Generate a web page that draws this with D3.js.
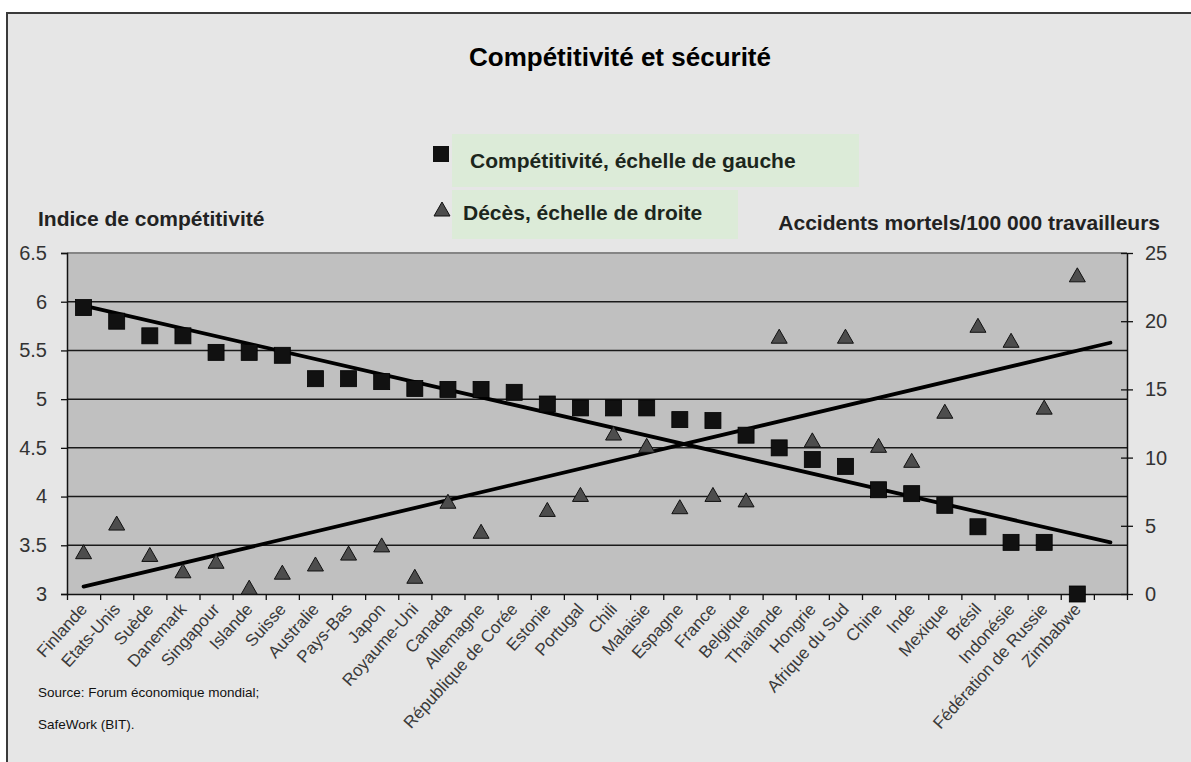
<!DOCTYPE html>
<html><head><meta charset="utf-8">
<script src="https://cdnjs.cloudflare.com/ajax/libs/d3/7.8.5/d3.min.js"></script>
<style>
body{margin:0;background:#fff}
svg{display:block}
text{font-family:"Liberation Sans",Arial,sans-serif}
</style>
</head><body>
<svg id="c" width="1191" height="762"></svg>
<script>
const categories = ["Finlande","Etats-Unis","Suède","Danemark","Singapour","Islande","Suisse","Australie","Pays-Bas","Japon","Royaume-Uni","Canada","Allemagne","République de Corée","Estonie","Portugal","Chili","Malaisie","Espagne","France","Belgique","Thaïlande","Hongrie","Afrique du Sud","Chine","Inde","Mexique","Brésil","Indonésie","Fédération de Russie","Zimbabwe"];
const competitiveness = [5.94,5.80,5.65,5.65,5.48,5.48,5.45,5.21,5.21,5.18,5.11,5.10,5.10,5.07,4.95,4.91,4.91,4.91,4.79,4.78,4.63,4.50,4.38,4.31,4.07,4.03,3.91,3.69,3.53,3.53,3.00];
const deaths = [3.1,5.2,2.9,1.7,2.4,0.5,1.6,2.2,3.0,3.6,1.3,6.8,4.6,null,6.2,7.3,11.8,10.9,6.4,7.3,6.9,18.9,11.3,18.9,10.9,9.8,13.4,19.7,18.6,13.7,23.4];
// linear trend lines: value at first slot, value at last slot
const competitivenessTrend = [5.96, 3.53];
const deathsTrend = [0.54, 18.42];
const leftTicks = [3,3.5,4,4.5,5,5.5,6,6.5];
const rightTicks = [0,5,10,15,20,25];
const nSlots = 32;

const svg = d3.select("#c");
const L = 67, R = 1127, T = 253, B = 594;
const FONT = "'Liberation Sans',Arial,sans-serif";

// frame
svg.append("rect").attr("x",7).attr("y",13).attr("width",1200).attr("height",800)
  .attr("fill","#e6e6e6").attr("stroke","#3a3a3a").attr("stroke-width",2);

const x = d3.scaleLinear().domain([0,nSlots]).range([L,R]);
const yL = d3.scaleLinear().domain([3,6.5]).range([B,T]);
const yR = d3.scaleLinear().domain([0,25]).range([B,T]);
const cx = i => x(i+0.5);

// plot area
svg.append("rect").attr("x",L).attr("y",T).attr("width",R-L).attr("height",B-T).attr("fill","#c0c0c0");
svg.append("line").attr("x1",L).attr("x2",R).attr("y1",T).attr("y2",T).attr("stroke","#858585").attr("stroke-width",2);

// grid
svg.append("g").selectAll("line").data(leftTicks.filter(v=>v>3 && v<6.5)).join("line")
  .attr("x1",L).attr("x2",R).attr("y1",d=>yL(d)).attr("y2",d=>yL(d))
  .attr("stroke","#1a1a1a").attr("stroke-width",1.5);

// left axis
const gl = svg.append("g").attr("transform",`translate(${L},0)`)
  .call(d3.axisLeft(yL).tickValues(leftTicks).tickFormat(d=>String(d)).tickSize(6).tickPadding(14));
gl.select(".domain").attr("stroke","#111").attr("stroke-width",1.5);
gl.selectAll(".tick line").attr("stroke","#111").attr("stroke-width",1.3);
gl.selectAll(".tick text").attr("font-size",20).attr("fill","#333").style("font-family",FONT);

// right axis
const gr = svg.append("g").attr("transform",`translate(${R},0)`)
  .call(d3.axisRight(yR).tickValues(rightTicks).tickSizeInner(6).tickSizeOuter(0).tickPadding(12));
gr.select(".domain").attr("stroke","#111").attr("stroke-width",1.5);
gr.selectAll(".tick line").attr("x1",-6).attr("stroke","#111").attr("stroke-width",1.3);
gr.selectAll(".tick text").attr("font-size",20).attr("fill","#333").style("font-family",FONT);

// bottom axis
const gb = svg.append("g").attr("transform",`translate(0,${B})`)
  .call(d3.axisBottom(x).tickValues(d3.range(0,nSlots+1)).tickFormat("").tickSize(6).tickSizeOuter(0));
gb.select(".domain").attr("stroke","#111").attr("stroke-width",1.5);
gb.selectAll(".tick line").attr("stroke","#111").attr("stroke-width",1.3);

// x labels
svg.append("g").selectAll("text").data(categories).join("text")
  .attr("transform",(d,i)=>`translate(${cx(i)},${B+12}) rotate(-48)`)
  .attr("text-anchor","end").attr("dy","0.35em")
  .attr("font-size",17).attr("fill","#3a3a3a").text(d=>d);

// trend lines
const ends = [0, nSlots-1];
svg.append("path").attr("d",d3.line().x(i=>cx(i)).y((i,k)=>yL(competitivenessTrend[k]))(ends))
  .attr("stroke","#000").attr("stroke-width",3.8).attr("stroke-linecap","round").attr("fill","none");
svg.append("path").attr("d",d3.line().x(i=>cx(i)).y((i,k)=>yR(deathsTrend[k]))(ends))
  .attr("stroke","#000").attr("stroke-width",3.8).attr("stroke-linecap","round").attr("fill","none");

// markers
const tri = (px,py) => `M${px},${py-7}L${px+8},${py+7}L${px-8},${py+7}Z`;
svg.append("g").selectAll("path").data(deaths.map((v,i)=>[i,v]).filter(p=>p[1]!=null)).join("path")
  .attr("d",p=>tri(cx(p[0]),yR(p[1]))).attr("fill","#4d4d4d").attr("stroke","#111").attr("stroke-width",1);
svg.append("g").selectAll("rect").data(competitiveness).join("rect")
  .attr("x",(d,i)=>cx(i)-8).attr("y",d=>yL(d)-8).attr("width",16).attr("height",16)
  .attr("fill","#111").attr("stroke","#000").attr("stroke-width",0.8);

// title
svg.append("text").attr("x",620).attr("y",66).attr("text-anchor","middle")
  .attr("font-size",26).attr("font-weight","bold").attr("fill","#000").text("Compétitivité et sécurité");

// legend
svg.append("rect").attr("x",452).attr("y",134).attr("width",407).attr("height",53).attr("fill","#dcebd8");
svg.append("rect").attr("x",452).attr("y",190).attr("width",286).attr("height",49).attr("fill","#dcebd8");
svg.append("rect").attr("x",433).attr("y",146).attr("width",16).attr("height",16).attr("fill","#111");
svg.append("path").attr("d",tri(442,209)).attr("fill","#4d4d4d").attr("stroke","#111");
svg.append("text").attr("x",470).attr("y",168).attr("font-size",21).attr("font-weight","bold").attr("fill","#1c261c")
  .text("Compétitivité, échelle de gauche");
svg.append("text").attr("x",463).attr("y",220).attr("font-size",21).attr("font-weight","bold").attr("fill","#1c261c")
  .text("Décès, échelle de droite");

// axis titles
svg.append("text").attr("x",38).attr("y",226).attr("font-size",21).attr("font-weight","bold").attr("fill","#222")
  .text("Indice de compétitivité");
svg.append("text").attr("x",1160).attr("y",230).attr("text-anchor","end").attr("font-size",21).attr("font-weight","bold").attr("fill","#222")
  .text("Accidents mortels/100 000 travailleurs");

// source
svg.append("text").attr("x",38).attr("y",697).attr("font-size",13.5).attr("fill","#111").text("Source: Forum économique mondial;");
svg.append("text").attr("x",38).attr("y",729).attr("font-size",13.5).attr("fill","#111").text("SafeWork (BIT).");
</script>
</body></html>
